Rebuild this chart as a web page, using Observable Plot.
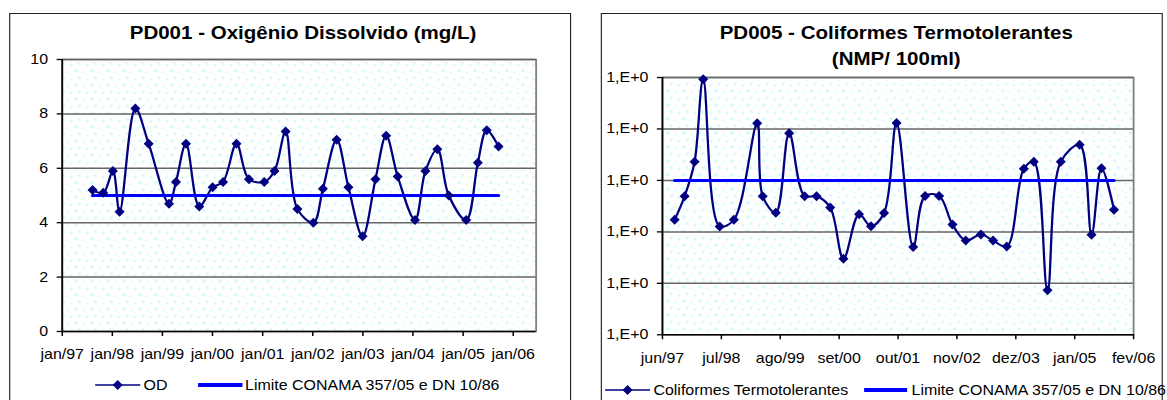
<!DOCTYPE html>
<html>
<head>
<meta charset="utf-8">
<script src="https://cdn.jsdelivr.net/npm/d3@7"></script>
<script src="https://cdn.jsdelivr.net/npm/@observablehq/plot@0.6"></script>
<style>
html, body { margin: 0; padding: 0; background: #fff; overflow: hidden; width: 1167px; height: 400px; }
#stage { position: absolute; left: 0; top: 0; width: 1024px; height: 400px; transform: scaleX(1.14); transform-origin: 0 0;
  font-family: "Liberation Sans", Arial, sans-serif; color: #000; }
.frame { position: absolute; top: 13px; width: 493px; height: 420px; border: 1.75px solid #222; box-sizing: border-box; }
.title { position: absolute; width: 500px; text-align: center; font-weight: bold; font-size: 18px; line-height: 26px; white-space: nowrap; }
.plot { position: absolute; }
.legend { position: absolute; overflow: visible; }
</style>
</head>
<body>
<svg width="0" height="0" style="position:absolute">
  <defs>
    <pattern id="dots" patternUnits="userSpaceOnUse" width="14" height="14">
      <rect width="14" height="14" fill="#ffffff"/>
      <rect x="1" y="1" width="2.5" height="2.5" fill="#c6fbfb"/>
      <rect x="8" y="3" width="2" height="2" fill="#dcfcfc"/>
      <rect x="4" y="8" width="2.5" height="2.5" fill="#d0fafa"/>
      <rect x="11" y="10" width="2" height="2" fill="#c9f9f9"/>
      <rect x="11" y="6" width="1.5" height="1.5" fill="#e6fdfd"/>
    </pattern>
  </defs>
</svg>
<div id="stage"></div>
<script>
// ---------- Data ----------
const odDates = ["1997-08-10","1997-10-27","1998-01-05","1998-02-23","1998-06-18","1998-09-23","1999-02-18","1999-04-10","1999-06-22","1999-09-27","2000-01-02","2000-03-18","2000-06-24","2000-09-23","2001-01-12","2001-03-28","2001-06-17","2001-09-11","2002-01-05","2002-03-16","2002-06-24","2002-09-18","2002-12-30","2003-04-03","2003-06-20","2003-09-12","2004-01-16","2004-04-01","2004-06-27","2004-09-18","2005-01-23","2005-04-18","2005-06-22","2005-09-16"];
const odValues = [5.2, 5.1, 5.9, 4.4, 8.2, 6.9, 4.7, 5.5, 6.9, 4.6, 5.3, 5.5, 6.9, 5.6, 5.5, 5.9, 7.35, 4.5, 4.0, 5.25, 7.05, 5.3, 3.5, 5.6, 7.2, 5.7, 4.1, 5.9, 6.7, 5.0, 4.1, 6.2, 7.4, 6.8];
const odLimit = 5;
const odXTickDates = ["1997-01-01","1998-01-01","1999-01-01","2000-01-01","2001-01-01","2002-01-01","2003-01-01","2004-01-01","2005-01-01","2006-01-01"];
const odXTickLabels = ["jan/97","jan/98","jan/99","jan/00","jan/01","jan/02","jan/03","jan/04","jan/05","jan/06"];
const odYTicks = [0, 2, 4, 6, 8, 10];

const cfDates = ["1997-08-22","1997-10-28","1998-01-03","1998-03-02","1998-06-21","1998-09-24","1999-02-28","1999-04-06","1999-07-03","1999-10-01","2000-01-13","2000-04-02","2000-07-03","2000-09-30","2001-01-13","2001-04-03","2001-06-30","2001-09-22","2002-01-12","2002-04-02","2002-07-05","2002-10-03","2002-12-31","2003-04-12","2003-07-03","2003-10-03","2004-01-26","2004-04-02","2004-07-03","2004-09-30","2005-02-04","2005-04-25","2005-07-01","2005-09-23"];
const cfValues = [172, 493, 2300, 92700, 127, 172, 12900, 493, 235, 8280, 493, 493, 298, 30, 221, 129, 233, 13100, 51, 500, 500, 139, 68, 89, 68, 52, 1680, 2300, 7.3, 2300, 4920, 88, 1720, 269];
const cfLimit = 1000;
const cfXTickDates = ["1997-06-01","1998-07-02","1999-08-02","2000-09-01","2001-10-02","2002-11-02","2003-12-03","2005-01-02","2006-02-02"];
const cfXTickLabels = ["jun/97","jul/98","ago/99","set/00","out/01","nov/02","dez/03","jan/05","fev/06"];
const cfYTicks = [1, 10, 100, 1000, 10000, 100000];
const cfYTickLabels = ["1,E+0","1,E+0","1,E+0","1,E+0","1,E+0","1,E+0"];

const odTitle = "PD001 - Oxigênio Dissolvido (mg/L)";
const cfTitle = ["PD005 - Coliformes Termotolerantes", "(NMP/ 100ml)"];
const odSeriesName = "OD";
const cfSeriesName = "Coliformes Termotolerantes";
const limitName = "Limite CONAMA 357/05 e DN 10/86";

// ---------- Helpers ----------
const FONT = '"Liberation Sans", Arial, sans-serif';
const NAVY = "#000080", BLUE = "#0000ff";
const HW = 4.4, HH = 5;
const diamond = { draw(ctx) { ctx.moveTo(0, -HH); ctx.lineTo(HW, 0); ctx.lineTo(0, HH); ctx.lineTo(-HW, 0); ctx.closePath(); } };
const stage = document.getElementById("stage");

function el(tag, cls, style, html) {
  const e = document.createElement(tag);
  if (cls) e.className = cls;
  Object.assign(e.style, style || {});
  if (html != null) e.innerHTML = html;
  stage.appendChild(e);
  return e;
}

function panel(cfg) {
  el("div", "frame", { left: cfg.left + "px" });
  el("div", "title", { left: (cfg.left + cfg.titleCenter - 250) + "px", top: "20px" }, cfg.title);

  const data = cfg.dates.map((d, i) => ({ date: new Date(d), value: cfg.values[i] }));
  const limitData = [
    { date: new Date(cfg.dates[0]), value: cfg.limit },
    { date: new Date(cfg.dates[cfg.dates.length - 1]), value: cfg.limit }
  ];
  const xTicks = cfg.xTickDates.map(d => new Date(d));
  const xLab = new Map(xTicks.map((d, i) => [+d, cfg.xTickLabels[i]]));
  const yLab = new Map(cfg.yTicks.map((v, i) => [v, cfg.yTickLabels ? cfg.yTickLabels[i] : String(v)]));
  const x0 = new Date(cfg.xDomain[0]);

  const chart = Plot.plot({
    width: 493, height: cfg.height,
    marginLeft: cfg.mL, marginRight: cfg.mR, marginTop: cfg.mT, marginBottom: cfg.mB,
    style: { fontFamily: FONT, fontSize: "14px", color: "#000", background: "transparent", overflow: "visible" },
    x: { type: "utc", domain: cfg.xDomain.map(d => new Date(d)) },
    y: cfg.yScale,
    marks: [
      Plot.frame({ fill: "url(#dots)", stroke: "#808080", strokeWidth: 1.6 }),
      Plot.ruleY(cfg.yTicks.slice(1), { stroke: "#666666", strokeWidth: 1.5 }),
      Plot.ruleY([cfg.yTicks[0]], { stroke: "#000", strokeWidth: 1.5 }),
      Plot.ruleX([x0], { stroke: "#000", strokeWidth: 1.5 }),
      Plot.axisY({ ticks: cfg.yTicks, tickSize: 4.4, tickPadding: 8, tickFormat: v => yLab.get(v), label: null, strokeWidth: 1.3 }),
      Plot.axisX({ ticks: xTicks, tickSize: 5, tickPadding: 13, tickFormat: d => xLab.get(+d), label: null, strokeWidth: 1.3 }),
      Plot.line(data, { x: "date", y: "value", curve: "catmull-rom", stroke: NAVY, strokeWidth: 2 }),
      Plot.line(limitData, { x: "date", y: "value", stroke: BLUE, strokeWidth: 3 }),
      Plot.dot(data, { x: "date", y: "value", symbol: diamond, fill: NAVY, r: 5 })
    ]
  });
  chart.classList.add("plot");
  chart.style.left = cfg.left + "px";
  chart.style.top = cfg.top + "px";
  stage.appendChild(chart);

  // legend
  const L = cfg.legend;
  const svg = d3.create("svg").attr("class", "legend").attr("width", 500).attr("height", 22)
    .style("left", cfg.left + "px").style("top", L.top + "px")
    .style("font-family", FONT).style("font-size", "14px");
  svg.append("line").attr("x1", L.s1[0]).attr("x2", L.s1[1]).attr("y1", 10).attr("y2", 10).attr("stroke", NAVY).attr("stroke-width", 1.6);
  svg.append("path").attr("d", `M0,${-HH}L${HW},0L0,${HH}L${-HW},0Z`).attr("fill", NAVY)
    .attr("transform", `translate(${(L.s1[0] + L.s1[1]) / 2},10)`);
  svg.append("text").attr("x", L.t1).attr("y", 15).text(cfg.seriesName);
  svg.append("line").attr("x1", L.s2[0]).attr("x2", L.s2[1]).attr("y1", 10).attr("y2", 10).attr("stroke", BLUE).attr("stroke-width", 4);
  svg.append("text").attr("x", L.t2).attr("y", 15).text(limitName);
  stage.appendChild(svg.node());
}

panel({
  left: 7.8, titleCenter: 258, title: odTitle,
  dates: odDates, values: odValues, limit: odLimit,
  xDomain: ["1997-01-01", "2006-06-17"], xTickDates: odXTickDates, xTickLabels: odXTickLabels,
  yTicks: odYTicks, yScale: { domain: [0, 10] },
  top: 40, height: 330, mL: 46.1, mR: 31.2, mT: 19, mB: 39,
  seriesName: odSeriesName,
  legend: { top: 375, s1: [75.5, 115], t1: 117.9, s2: [165.8, 204.7], t2: 207 }
});

panel({
  left: 527.2, titleCenter: 259, title: cfTitle.join("<br>"),
  dates: cfDates, values: cfValues, limit: cfLimit,
  xDomain: ["1997-06-01", "2006-02-02"], xTickDates: cfXTickDates, xTickLabels: cfXTickLabels,
  yTicks: cfYTicks, yTickLabels: cfYTickLabels, yScale: { type: "log", domain: [1, 100000] },
  top: 60, height: 312, mL: 53.6, mR: 26.1, mT: 17, mB: 37.7,
  seriesName: cfSeriesName,
  legend: { top: 380, s1: [3.8, 43.2], t1: 46.2, s2: [231, 268.7], t2: 272.6 }
});
</script>
</body>
</html>
